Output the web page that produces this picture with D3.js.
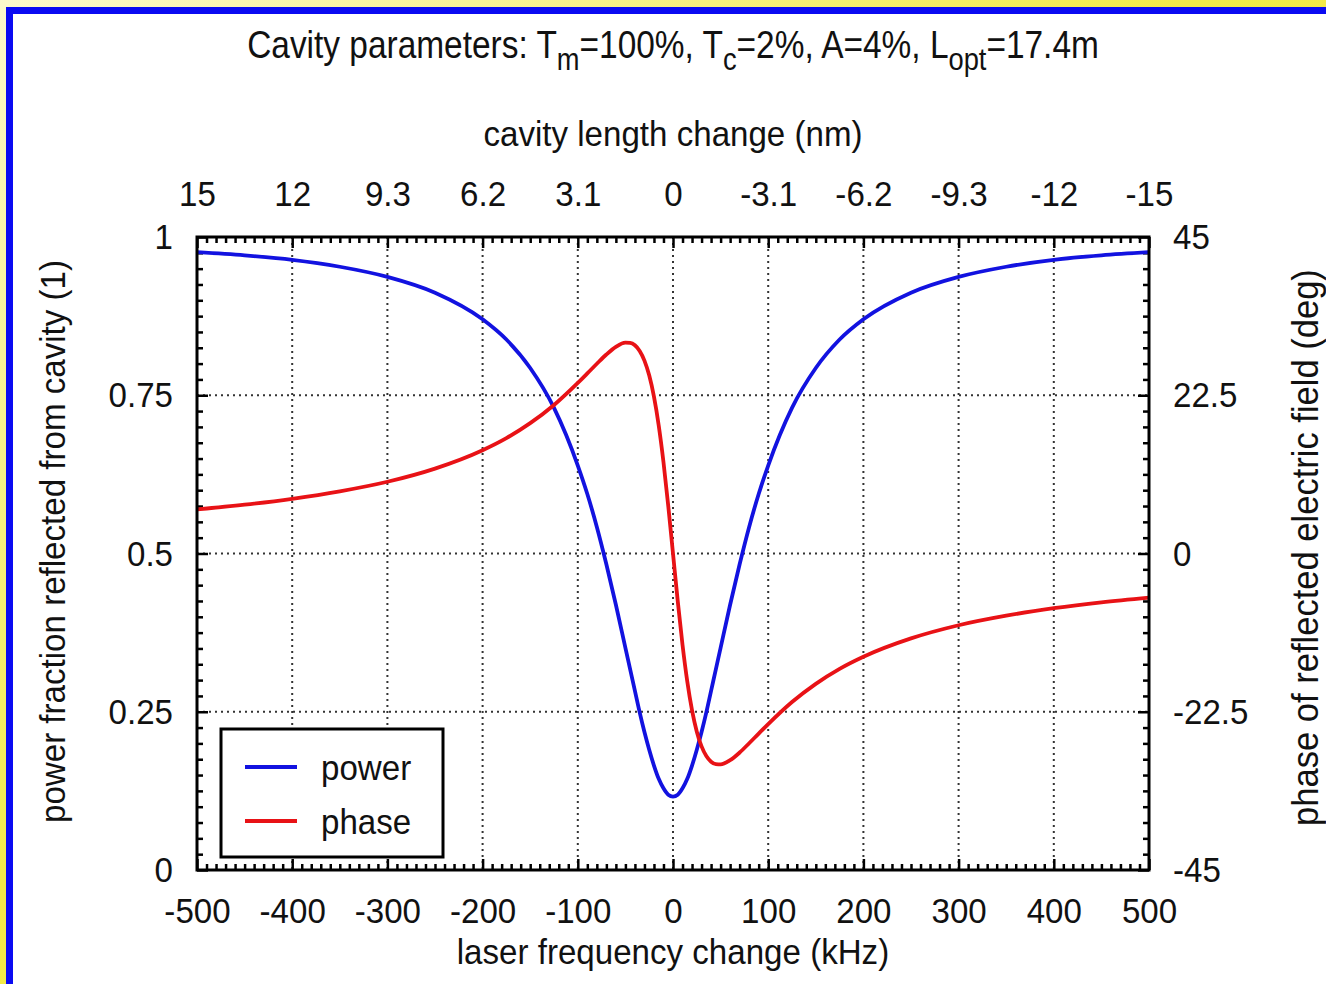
<!DOCTYPE html>
<meta charset="utf-8" />

<!-- Load d3.js -->
<script src="https://d3js.org/d3.v7.js"></script>

<style>
	body {
		margin: 0;
		overflow: hidden;
	}
	svg text {
		font-family: "Liberation Sans", Arial, sans-serif;
		fill: #111;
	}
</style>
<div id="chart"></div>

<script>
	// Values
	const freq = [-500, -450, -400, -350, -300, -250, -200, -175, -150, -125, -100, -90, -80, -70, -60, -50, -45, -40, -35, -30, -25, -20, -15, -10, -5,
		0, 5, 10, 15, 20, 25, 30, 35, 40, 45, 50, 60, 70, 80, 90, 100, 125, 150, 175, 200, 250, 300, 350, 400, 450, 500];
	const power = [0.976, 0.971, 0.964, 0.953, 0.937, 0.912, 0.870, 0.838, 0.793, 0.730, 0.639, 0.594, 0.542, 0.483, 0.419, 0.351, 0.317, 0.283, 0.249, 0.218, 0.190, 0.165, 0.144, 0.129, 0.119,
		0.116, 0.119, 0.129, 0.144, 0.165, 0.190, 0.218, 0.249, 0.283, 0.317, 0.351, 0.419, 0.483, 0.542, 0.594, 0.639, 0.730, 0.793, 0.838, 0.870, 0.912, 0.937, 0.953, 0.964, 0.971, 0.976];
	const phase = [6.27, 6.94, 7.78, 8.84, 10.20, 12.07, 14.68, 16.40, 18.53, 21.12, 24.26, 25.61, 26.98, 28.30, 29.39, 29.98, 29.95, 29.60, 28.80, 27.43, 25.33, 22.30, 18.20, 12.99, 6.79,
		0, -6.79, -12.99, -18.20, -22.30, -25.33, -27.43, -28.80, -29.60, -29.95, -29.98, -29.39, -28.30, -26.98, -25.61, -24.26, -21.12, -18.53, -16.40, -14.68, -12.07, -10.20, -8.84, -7.78, -6.94, -6.27];

	const freqTicks = [-500, -400, -300, -200, -100, 0, 100, 200, 300, 400, 500];
	const lengthTicks = [15.5, 12.4, 9.3, 6.2, 3.1, 0, -3.1, -6.2, -9.3, -12.4, -15.5];
	const lengthLabels = ["15", "12", "9.3", "6.2", "3.1", "0", "-3.1", "-6.2", "-9.3", "-12", "-15"];
	const powerTicks = [0, 0.25, 0.5, 0.75, 1];
	const phaseTicks = [-45, -22.5, 0, 22.5, 45];
	const seriesNames = ["power", "phase"];
	const seriesColors = ["#1212e0", "#e81216"];

	// Set dimensions and margins for the chart
	const W = 1326, H = 984;
	const margin = { top: 237, right: 177, bottom: 114, left: 197 };
	const width = W - margin.left - margin.right;
	const height = H - margin.top - margin.bottom;
	const squeeze = 0.92; // the original font is a narrow one

	const root = d3.select("#chart").append("svg").attr("width", W).attr("height", H);

	// slide background: yellow gradient, blue framed white panel
	const grad = root.append("defs").append("linearGradient")
		.attr("id", "bg").attr("x1", 0).attr("y1", 0).attr("x2", 1).attr("y2", 1);
	grad.append("stop").attr("offset", "0%").attr("stop-color", "#fcf9cc");
	grad.append("stop").attr("offset", "45%").attr("stop-color", "#f2ea48");
	grad.append("stop").attr("offset", "100%").attr("stop-color", "#efe53a");
	root.append("rect").attr("width", W).attr("height", H).attr("fill", "url(#bg)");
	root.append("rect").attr("x", 6).attr("y", 7).attr("width", W).attr("height", H).attr("fill", "#0a0af2");
	root.append("rect").attr("x", 13).attr("y", 14).attr("width", W).attr("height", H).attr("fill", "#fff");

	const svg = root.append("g")
		.attr("transform", "translate(" + margin.left + "," + margin.top + ")");

	// Scales
	const x = d3.scaleLinear().domain([-500, 500]).range([0, width]);
	const xTop = d3.scaleLinear().domain([15.5, -15.5]).range([0, width]);
	const y = d3.scaleLinear().domain([0, 1]).range([height, 0]);
	const y2 = d3.scaleLinear().domain([-45, 45]).range([height, 0]);

	// minor tick values
	function minors(ticks, n) {
		const out = [];
		for (let i = 0; i < ticks.length - 1; i++) {
			const step = (ticks[i + 1] - ticks[i]) / n;
			for (let k = 1; k < n; k++) out.push(ticks[i] + k * step);
		}
		return out;
	}

	// squeeze text horizontally around its own x anchor
	function narrow(sel, s) {
		sel.each(function () {
			const t = d3.select(this);
			const x0 = +t.attr("x") || 0;
			t.attr("transform", "translate(" + x0 + ",0) scale(" + s + ",1) translate(" + (-x0) + ",0)");
		});
	}

	// Grid
	const grid = svg.append("g")
		.attr("stroke", "#333")
		.attr("stroke-width", 2)
		.attr("stroke-dasharray", "2,4");
	grid.selectAll(".vg")
		.data(freqTicks.slice(1, -1))
		.enter()
		.append("line")
		.attr("x1", d => x(d)).attr("x2", d => x(d))
		.attr("y1", 0).attr("y2", height);
	grid.selectAll(".hg")
		.data(powerTicks.slice(1, -1))
		.enter()
		.append("line")
		.attr("x1", 0).attr("x2", width)
		.attr("y1", d => y(d)).attr("y2", d => y(d));

	// Axes
	function styleAxis(g) {
		g.select(".domain").remove();
		g.selectAll(".tick line").attr("stroke", "#000").attr("stroke-width", 2.5);
		g.selectAll(".tick text").attr("font-size", 36).attr("fill", "#111").call(narrow, squeeze);
	}

	svg.append("g")
		.attr("transform", "translate(0," + height + ")")
		.call(d3.axisBottom(x).tickValues(freqTicks).tickSizeInner(-11).tickSizeOuter(0).tickPadding(27)
			.tickFormat(d => String(d)))
		.call(styleAxis);
	svg.append("g")
		.attr("transform", "translate(0," + height + ")")
		.call(d3.axisBottom(x).tickValues(minors(freqTicks, 10)).tickSize(-6).tickFormat(""))
		.call(styleAxis);

	svg.append("g")
		.call(d3.axisTop(xTop).tickValues(lengthTicks).tickSizeInner(-11).tickSizeOuter(0).tickPadding(31)
			.tickFormat((d, i) => lengthLabels[i]))
		.call(styleAxis);
	svg.append("g")
		.call(d3.axisTop(xTop).tickValues(minors(lengthTicks, 10)).tickSize(-6).tickFormat(""))
		.call(styleAxis);

	svg.append("g")
		.call(d3.axisLeft(y).tickValues(powerTicks).tickSizeInner(-11).tickSizeOuter(0).tickPadding(24)
			.tickFormat(d => String(d)))
		.call(styleAxis);
	svg.append("g")
		.call(d3.axisLeft(y).tickValues(minors(powerTicks, 10)).tickSize(-6).tickFormat(""))
		.call(styleAxis);

	svg.append("g")
		.attr("transform", "translate(" + width + ",0)")
		.call(d3.axisRight(y2).tickValues(phaseTicks).tickSizeInner(-11).tickSizeOuter(0).tickPadding(24)
			.tickFormat(d => String(d)))
		.call(styleAxis);
	svg.append("g")
		.attr("transform", "translate(" + width + ",0)")
		.call(d3.axisRight(y2).tickValues(minors(phaseTicks, 10)).tickSize(-6).tickFormat(""))
		.call(styleAxis);

	// Curves
	const rows = freq.map((f, i) => ({ f: f, p: power[i], ph: phase[i] }));
	const powerLine = d3.line().x(d => x(d.f)).y(d => y(d.p)).curve(d3.curveMonotoneX);
	const phaseLine = d3.line().x(d => x(d.f)).y(d => y2(d.ph)).curve(d3.curveMonotoneX);

	svg.append("path").datum(rows)
		.attr("fill", "none").attr("stroke", seriesColors[0]).attr("stroke-width", 3.8)
		.attr("d", powerLine);
	svg.append("path").datum(rows)
		.attr("fill", "none").attr("stroke", seriesColors[1]).attr("stroke-width", 3.8)
		.attr("d", phaseLine);

	// Frame
	svg.append("rect")
		.attr("width", width).attr("height", height)
		.attr("fill", "none").attr("stroke", "#000").attr("stroke-width", 3);

	// Legend
	const legend = svg.append("g").attr("transform", "translate(24," + (height - 141) + ")");
	legend.append("rect")
		.attr("width", 222).attr("height", 128)
		.attr("fill", "#fff").attr("stroke", "#000").attr("stroke-width", 3);
	const items = legend.selectAll(".legend")
		.data(seriesNames)
		.enter()
		.append("g")
		.attr("class", "legend")
		.attr("transform", (d, i) => "translate(0," + (38 + i * 54) + ")");
	items.append("line")
		.attr("x1", 24).attr("x2", 76)
		.attr("stroke", (d, i) => seriesColors[i]).attr("stroke-width", 3.8);
	items.append("text")
		.attr("x", 100).attr("dy", "0.35em")
		.attr("font-size", 36)
		.text(d => d)
		.call(narrow, squeeze);

	// Axis titles
	root.append("text")
		.attr("x", margin.left + width / 2).attr("y", 964)
		.attr("text-anchor", "middle").attr("font-size", 36)
		.text("laser frequency change (kHz)")
		.call(narrow, squeeze);
	root.append("text")
		.attr("x", margin.left + width / 2).attr("y", 146)
		.attr("text-anchor", "middle").attr("font-size", 36)
		.text("cavity length change (nm)")
		.call(narrow, squeeze);
	root.append("text")
		.attr("transform", "translate(65," + (margin.top + height / 2 - 12) + ") rotate(-90) scale(" + squeeze + ",1)")
		.attr("text-anchor", "middle").attr("font-size", 36)
		.text("power fraction reflected from cavity (1)");
	root.append("text")
		.attr("transform", "translate(1318," + (margin.top + height / 2 - 6) + ") rotate(-90) scale(0.96,1)")
		.attr("text-anchor", "middle").attr("font-size", 36)
		.text("phase of reflected electric field (deg)");

	// Title with subscripts
	const titleParts = [
		["Cavity parameters: T", false], ["m", true], ["=100%, T", false], ["c", true],
		["=2%, A=4%, L", false], ["opt", true], ["=17.4m", false]
	];
	const title = root.append("text")
		.attr("x", margin.left + width / 2).attr("y", 58)
		.attr("text-anchor", "middle").attr("font-size", 38);
	titleParts.forEach((p, i) => {
		const prevSub = i > 0 && titleParts[i - 1][1];
		title.append("tspan")
			.attr("font-size", p[1] ? 31 : 38)
			.attr("dy", p[1] ? 12 : (prevSub ? -12 : 0))
			.text(p[0]);
	});
	title.call(narrow, 0.88);
</script>
